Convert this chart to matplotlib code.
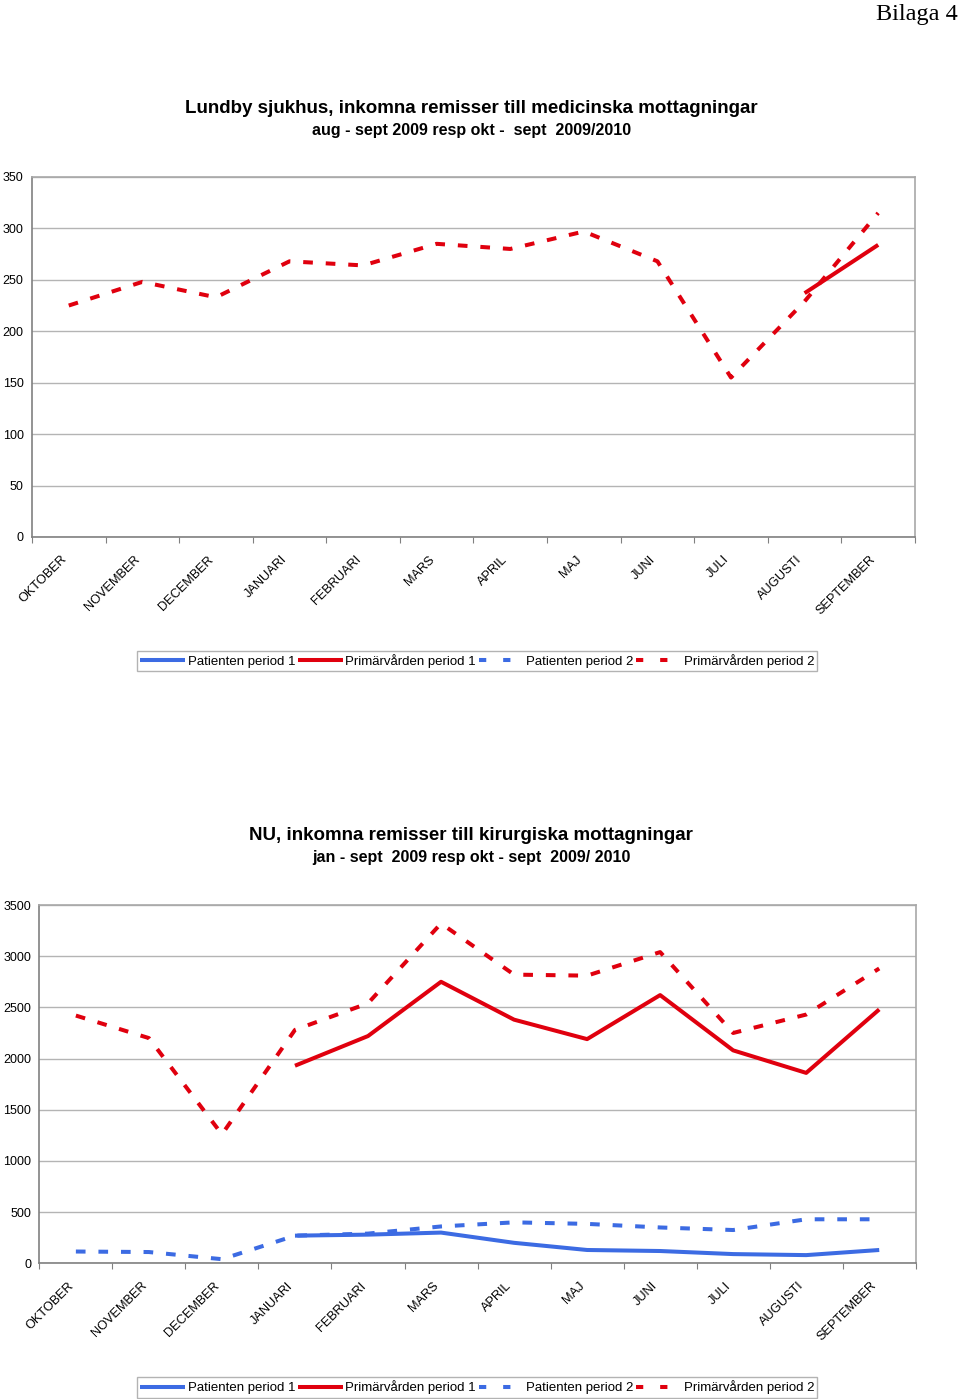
import numpy as np
import matplotlib.pyplot as plt
from matplotlib.lines import Line2D

plt.rcParams['font.family'] = ['Liberation Sans', 'DejaVu Sans']

# === DATA === #
months = ['OKTOBER', 'NOVEMBER', 'DECEMBER', 'JANUARI', 'FEBRUARI', 'MARS',
          'APRIL', 'MAJ', 'JUNI', 'JULI', 'AUGUSTI', 'SEPTEMBER']
series_names = ['Patienten period 1', 'Primärvården period 1',
                'Patienten period 2', 'Primärvården period 2']

nan = np.nan
# Lundby sjukhus (medicinska mottagningar)
lundby_pat_p1 = [nan] * 12
lundby_prim_p1 = [nan, nan, nan, nan, nan, nan, nan, nan, nan, nan, 237, 284]
lundby_pat_p2 = [nan] * 12
lundby_prim_p2 = [225, 248, 233, 268, 264, 285, 280, 297, 268, 155, 229, 315]

# NU (kirurgiska mottagningar)
nu_pat_p1 = [nan, nan, nan, 270, 280, 300, 200, 130, 120, 90, 80, 130]
nu_prim_p1 = [nan, nan, nan, 1930, 2220, 2750, 2380, 2190, 2620, 2080, 1860, 2480]
nu_pat_p2 = [115, 110, 40, 270, 290, 360, 400, 385, 350, 325, 430, 430]
nu_prim_p2 = [2420, 2200, 1260, 2280, 2540, 3320, 2820, 2810, 3040, 2250, 2430, 2880]

BLUE = '#3c6be3'
RED = '#e0000e'
GRID = '#b4b4b4'
DASH = (2.4, 3.2)


def draw_chart(ax, data, ymax, ystep):
    x = np.arange(len(months))
    styles = [(BLUE, '-'), (RED, '-'), (BLUE, '--'), (RED, '--')]
    for vals, (col, ls) in zip(data, styles):
        line, = ax.plot(x, vals, color=col, lw=2.9, solid_capstyle='butt')
        if ls == '--':
            line.set_dashes(DASH)
            line.set_dash_capstyle('butt')
    ax.set_xlim(-0.5, len(months) - 0.5)
    ax.set_ylim(0, ymax)
    ax.set_yticks(np.arange(0, ymax + 1, ystep))
    ax.yaxis.grid(True, color=GRID, lw=1.0)
    ax.set_axisbelow(True)
    ax.tick_params(axis='y', length=0, labelsize=9, pad=6)
    # category boundaries as ticks, labels at centres
    ax.set_xticks(np.arange(-0.5, len(months)), minor=False)
    ax.set_xticklabels([])
    ax.set_xticks(x, minor=True)
    ax.set_xticklabels(months, minor=True, rotation=45, ha='right', va='bottom',
                       rotation_mode='anchor', fontsize=9.2)
    ax.tick_params(axis='x', which='major', length=4, color='#808080')
    ax.tick_params(axis='x', which='minor', length=0, pad=18)
    for s in ['left', 'bottom']:
        ax.spines[s].set_color('#808080')
        ax.spines[s].set_linewidth(1.2)
    for s in ['top', 'right']:
        ax.spines[s].set_color('#a8a8a8')
        ax.spines[s].set_linewidth(1.2)


def draw_legend(fig, y_center):
    handles = []
    for col, ls in [(BLUE, '-'), (RED, '-'), (BLUE, '--'), (RED, '--')]:
        h = Line2D([], [], color=col, lw=2.9, solid_capstyle='butt')
        if ls == '--':
            h.set_dashes((1.8, 4.2))
        handles.append(h)
    leg = fig.legend(handles, series_names, loc='center',
                     bbox_to_anchor=(0.497, y_center), ncol=4, fontsize=9.5,
                     frameon=True, fancybox=False, handlelength=3.4,
                     handletextpad=0.2, columnspacing=0.2, borderpad=0.25)
    leg.get_frame().set_edgecolor('#a0a0a0')
    leg.get_frame().set_linewidth(1.0)


fig = plt.figure(figsize=(9.6, 13.99), dpi=100)

fig.text(0.998, 1 - 14.5 / 1399, 'Bilaga 4', ha='right', va='center',
         fontsize=17.5, family='Liberation Serif')

# chart 1
ax1 = fig.add_axes([0.0333, 0.6162, 0.9198, 0.2573])
draw_chart(ax1, [lundby_pat_p1, lundby_prim_p1, lundby_pat_p2, lundby_prim_p2], 350, 50)
fig.text(0.491, 1 - 108.5 / 1399, 'Lundby sjukhus, inkomna remisser till medicinska mottagningar',
         ha='center', va='center', fontsize=13.5, fontweight='bold')
fig.text(0.491, 1 - 130.5 / 1399, 'aug - sept 2009 resp okt -  sept  2009/2010',
         ha='center', va='center', fontsize=11.5, fontweight='bold')
draw_legend(fig, 1 - 661 / 1399)

# chart 2
ax2 = fig.add_axes([0.0410, 0.0970, 0.9129, 0.2561])
draw_chart(ax2, [nu_pat_p1, nu_prim_p1, nu_pat_p2, nu_prim_p2], 3500, 500)
fig.text(0.491, 1 - 835.5 / 1399, 'NU, inkomna remisser till kirurgiska mottagningar',
         ha='center', va='center', fontsize=13.5, fontweight='bold')
fig.text(0.491, 1 - 857.5 / 1399, 'jan - sept  2009 resp okt - sept  2009/ 2010',
         ha='center', va='center', fontsize=11.5, fontweight='bold')
draw_legend(fig, 1 - 1387.5 / 1399)

fig.savefig('out.png', dpi=100)
